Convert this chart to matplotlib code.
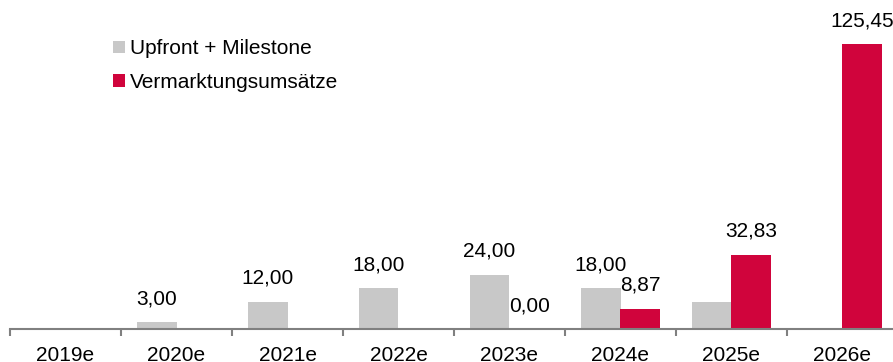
import matplotlib.pyplot as plt
import numpy as np

plt.rcParams['font.family'] = ['Liberation Sans', 'DejaVu Sans']

years = ["2019e", "2020e", "2021e", "2022e", "2023e", "2024e", "2025e", "2026e"]
upfront = [0, 3.00, 12.00, 18.00, 24.00, 18.00, 12.00, 0]
vermarktung = [0, 0, 0, 0, 0.00, 8.87, 32.83, 125.45]
upfront_shown = [False, True, True, True, True, True, False, False]
vermarktung_shown = [False, False, False, False, True, True, True, True]

gray = "#c8c8c8"
red = "#d0043c"
fs = 15

fig = plt.figure(figsize=(8.93, 3.62), dpi=100)
ax = fig.add_axes([10 / 893, 33 / 362, 888 / 893, 329 / 362])

x = np.arange(len(years))
w = 0.36
b1 = ax.bar(x - w / 2, upfront, w, color=gray, label="Upfront + Milestone")
b2 = ax.bar(x + w / 2, vermarktung, w, color=red, label="Vermarktungsumsätze")

def fmt(v):
    return f"{v:.2f}".replace(".", ",")

for rect, v, show in zip(b1, upfront, upfront_shown):
    if show:
        ax.annotate(fmt(v), (rect.get_x() + rect.get_width() / 2, v),
                    xytext=(0, 10), textcoords="offset points",
                    ha="center", va="bottom", fontsize=fs)
for rect, v, show in zip(b2, vermarktung, vermarktung_shown):
    if show:
        ax.annotate(fmt(v), (rect.get_x() + rect.get_width() / 2, v),
                    xytext=(0, 10), textcoords="offset points",
                    ha="center", va="bottom", fontsize=fs)

ax.set_xlim(-0.5, len(years) - 0.5)
ax.set_ylim(0, 145)
ax.set_xticks(x)
ax.set_xticklabels(years, fontsize=fs)
ax.set_xticks(np.arange(len(years) + 1) - 0.5, minor=True)
ax.tick_params(axis="x", which="major", length=0, pad=12)
ax.tick_params(axis="x", which="minor", length=5, width=1.5, color="#808080")
ax.set_yticks([])
for s in ["top", "right", "left"]:
    ax.spines[s].set_visible(False)
ax.spines["bottom"].set_color("#808080")
ax.spines["bottom"].set_linewidth(1.5)

fig.legend(loc="upper left", bbox_to_anchor=(103 / 893, 1 - 29 / 362),
           frameon=False, fontsize=fs, handlelength=0.55, handleheight=0.55,
           handletextpad=0.25, labelspacing=0.7, borderpad=0)

fig.savefig("out.png", dpi=100)
